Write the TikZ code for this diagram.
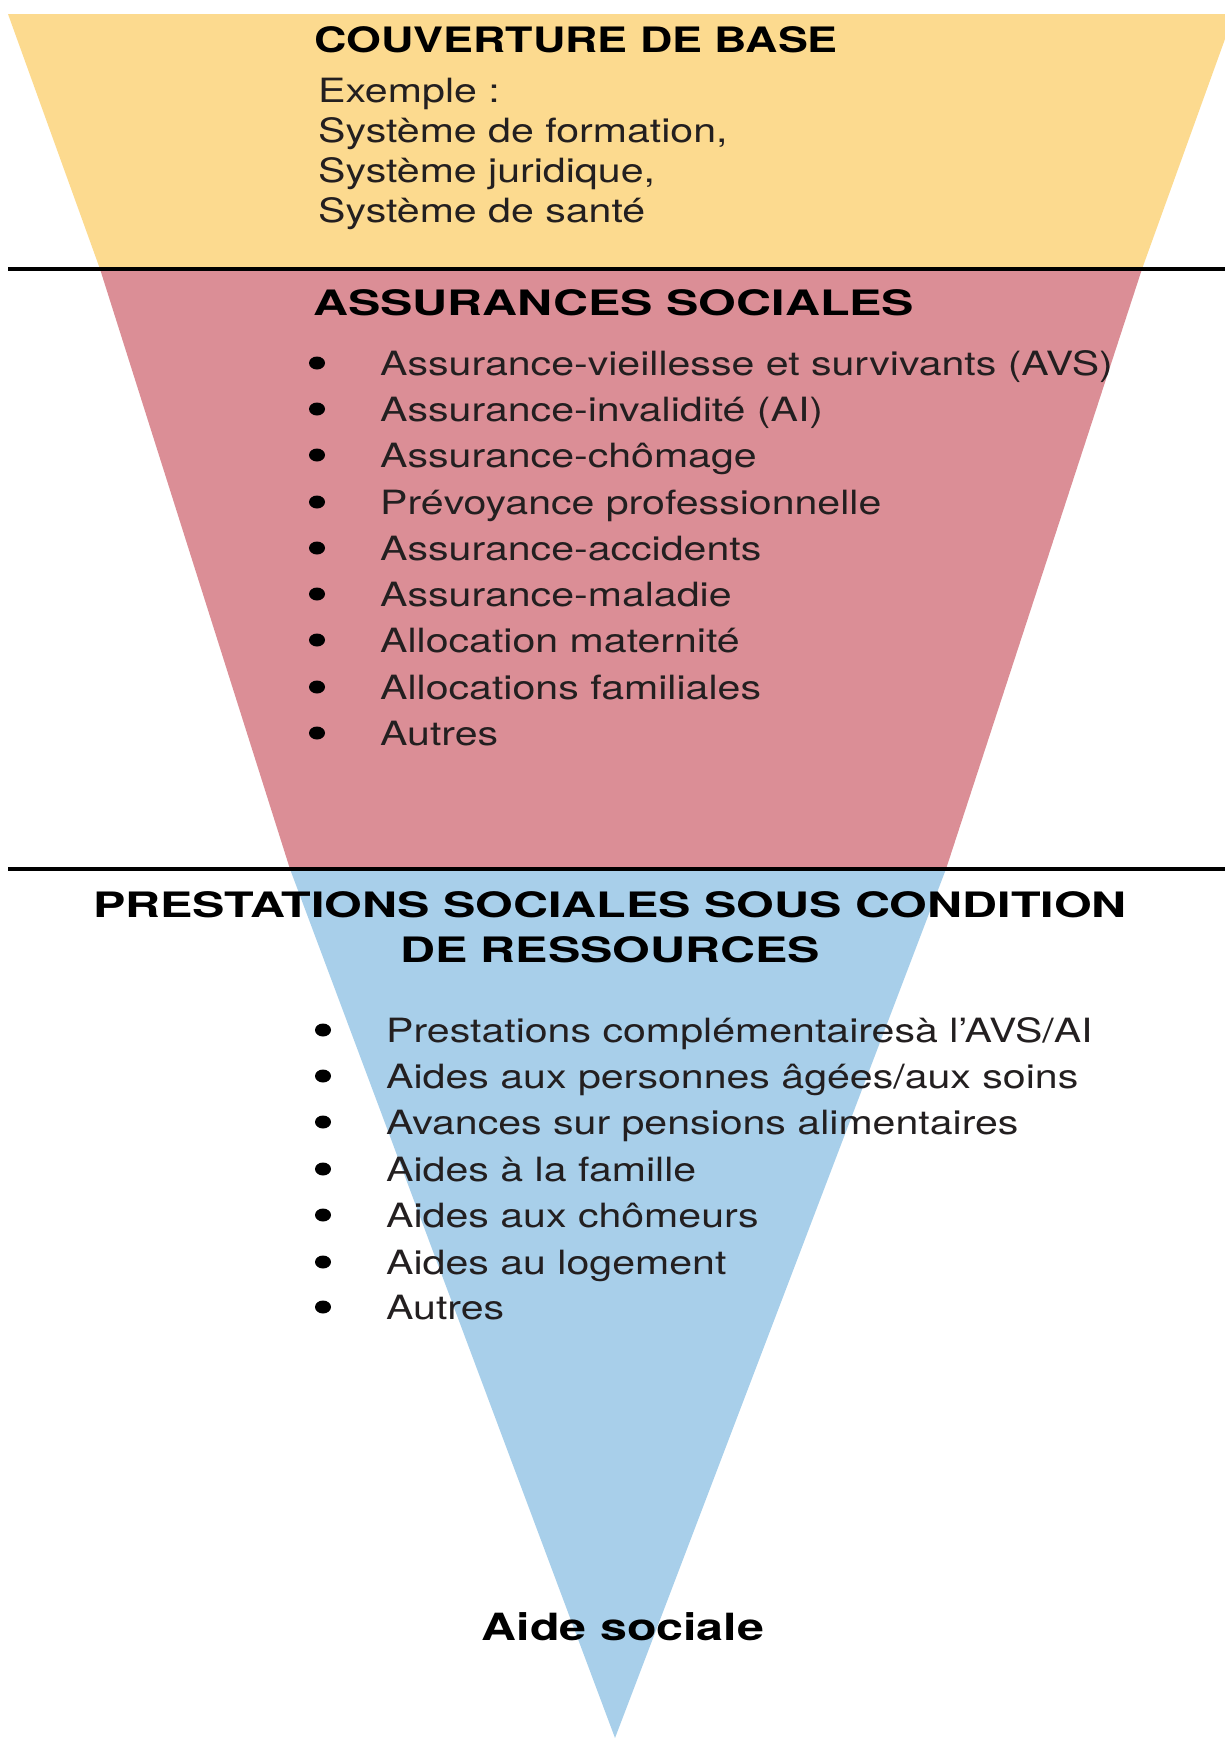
\documentclass[tikz,border=0pt]{standalone}
\usepackage{fontspec}
\setmainfont{TeX Gyre Heros}[FakeStretch=1.23]
\newfontfamily\headfont{TeX Gyre Heros}[FakeStretch=1.385]
\newfontfamily\basefont{TeX Gyre Heros}[FakeStretch=1.28]
\newfontfamily\aidefont{TeX Gyre Heros}[FakeStretch=1.29]
\definecolor{baseyellow}{RGB}{252,218,143}
\definecolor{assurpink}{RGB}{219,142,150}
\definecolor{prestblue}{RGB}{168,207,234}
\definecolor{textgray}{RGB}{35,31,32}
\tikzset{
  body/.style={anchor=base west,inner sep=0pt,text=textgray,font=\fontsize{33.4pt}{40pt}\selectfont},
  head/.style={anchor=base west,inner sep=0pt,font=\headfont\bfseries\fontsize{35pt}{45pt}\selectfont},
  sepline/.style={line width=4.5pt},
}
\begin{document}
\begin{tikzpicture}[x=1pt,y=-1pt]
			\useasboundingbox (0,0) rectangle (1225,1738);
			%% bands
			\fill[baseyellow] (8,14) -- (1225,14) -- (1225,39) -- (1142,269) -- (100,269) -- cycle;
			\fill[assurpink] (100,269) -- (1142,269) -- (946,869) -- (290,869) -- cycle;
			\fill[prestblue] (290,869) -- (946,869) -- (615,1738) -- cycle;
			%% separating lines
			\draw[sepline] (8,269) -- (1225,269);
			\draw[sepline] (8,869) -- (1225,869);
			%% couverture de base
			\node[head,font=\basefont\bfseries\fontsize{35pt}{45pt}\selectfont] (couvTitle) at (314,52) {COUVERTURE DE BASE};
			\node[body] (couvEx) at (318,102) {Exemple :};
			\node[body] (couvForm) at (318,142) {Système de formation,};
			\node[body] (couvJur) at (318,182) {Système juridique,};
			\node[body] (couvSante) at (318,222) {Système de santé};
			%% assurances sociales
			\node[head] (assTitle) at (313,315) {ASSURANCES SOCIALES};
			\node[body] (assAVS) at (380,375) {Assurance-vieillesse et survivants (AVS)};
			\node[body] (assAI) at (380,421) {Assurance-invalidité (AI)};
			\node[body] (assChom) at (380,467) {Assurance-chômage};
			\node[body] (assPrev) at (380,514) {Prévoyance professionnelle};
			\node[body] (assAcc) at (380,560) {Assurance-accidents};
			\node[body] (assMal) at (380,606) {Assurance-maladie};
			\node[body] (assMat) at (380,652) {Allocation maternité};
			\node[body] (assFam) at (380,699) {Allocations familiales};
			\node[body] (assAutres) at (380,745) {Autres};
			\fill (317,363) ellipse (8pt and 6.5pt);
			\fill (317,409) ellipse (8pt and 6.5pt);
			\fill (317,455) ellipse (8pt and 6.5pt);
			\fill (317,502) ellipse (8pt and 6.5pt);
			\fill (317,548) ellipse (8pt and 6.5pt);
			\fill (317,594) ellipse (8pt and 6.5pt);
			\fill (317,640) ellipse (8pt and 6.5pt);
			\fill (317,687) ellipse (8pt and 6.5pt);
			\fill (317,733) ellipse (8pt and 6.5pt);
			%% prestations sous condition de ressources
			\node[head,anchor=base] (prestTitle) at (610,917) {PRESTATIONS SOCIALES SOUS CONDITION};
			\node[head,anchor=base] (prestTitleB) at (610,962) {DE RESSOURCES};
			\node[body] (prestPC) at (386,1042) {Prestations complémentairesà l’AVS/AI};
			\node[body] (prestAges) at (386,1088) {Aides aux personnes âgées/aux soins};
			\node[body] (prestAvances) at (386,1134) {Avances sur pensions alimentaires};
			\node[body] (prestFam) at (386,1181) {Aides à la famille};
			\node[body] (prestChom) at (386,1227) {Aides aux chômeurs};
			\node[body] (prestLog) at (386,1274) {Aides au logement};
			\node[body] (prestAutres) at (386,1319) {Autres};
			\fill (323,1030) ellipse (8pt and 6.5pt);
			\fill (323,1076) ellipse (8pt and 6.5pt);
			\fill (323,1122) ellipse (8pt and 6.5pt);
			\fill (323,1169) ellipse (8pt and 6.5pt);
			\fill (323,1215) ellipse (8pt and 6.5pt);
			\fill (323,1262) ellipse (8pt and 6.5pt);
			\fill (323,1307) ellipse (8pt and 6.5pt);
			%% aide sociale
			\node[anchor=base,inner sep=0pt,font=\aidefont\bfseries\fontsize{37.5pt}{45pt}\selectfont] (aide) at (623,1640) {Aide sociale};
		\end{tikzpicture}
\end{document}
